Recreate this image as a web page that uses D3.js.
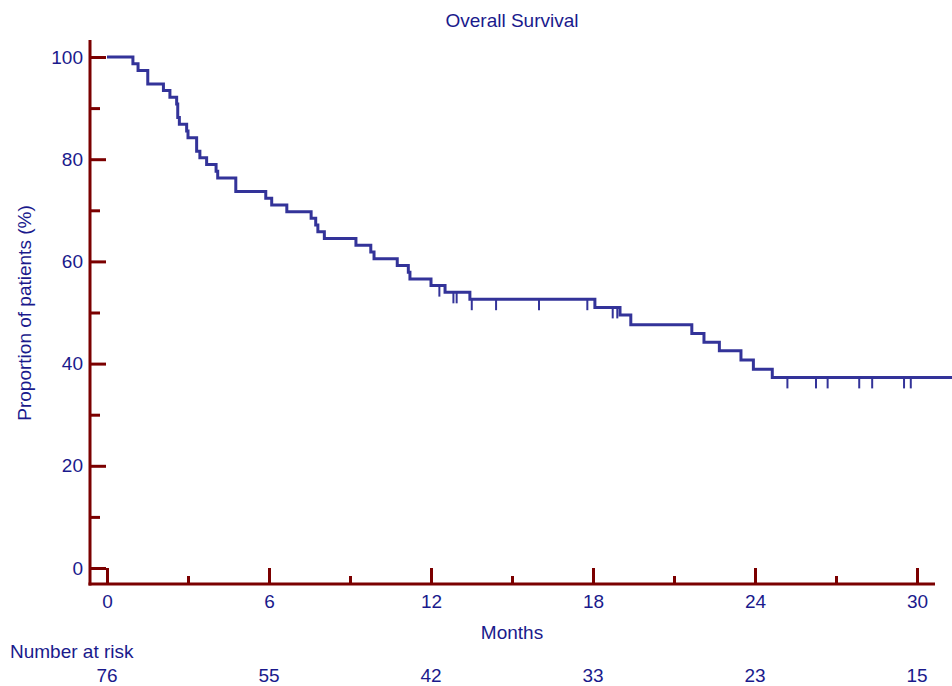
<!DOCTYPE html>
<html>
<head>
<meta charset="utf-8">
<script src="https://cdn.jsdelivr.net/npm/d3@7"></script>
<style>
	body { margin: 0; background: #fff; }
	svg text { font-family: "Liberation Sans", Arial, sans-serif; font-size: 19px; fill: #1a1a8c; }
</style>
</head>
<body>
<svg id="chart" width="952" height="686"></svg>
<script>
// Kaplan-Meier steps: time of drop (months) and survival (%) after the drop
var eventMonths = [0.96, 1.15, 1.51, 2.09, 2.33, 2.58, 2.62, 2.68, 2.95, 3.0,
	3.32, 3.44, 3.69, 4.04, 4.10, 4.77, 5.88, 6.10, 6.66, 7.56,
	7.73, 7.81, 8.05, 9.22, 9.77, 9.89, 10.75, 11.16, 11.22, 12.0,
	12.52, 13.44, 18.07, 19.0, 19.4, 21.66, 22.11, 22.68, 23.48, 23.94, 24.64];
var survivalPct = [98.68, 97.37, 94.74, 93.42, 92.11, 90.79, 88.16, 86.84, 85.53, 84.21,
	81.58, 80.26, 78.95, 77.63, 76.32, 73.68, 72.37, 71.05, 69.74, 68.42,
	67.11, 65.79, 64.47, 63.16, 61.84, 60.53, 59.21, 57.89, 56.58, 55.26,
	53.95, 52.6, 51.0, 49.5, 47.6, 45.9, 44.2, 42.5, 40.7, 38.9, 37.3];
var censorMonths = [12.31, 12.83, 12.95, 13.51, 14.41, 16.0, 17.79, 18.73, 18.9,
	25.2, 26.26, 26.69, 27.86, 28.34, 29.52, 29.77];
var lastFollowUp = 31.3;

var xMajorTicks = [0, 6, 12, 18, 24, 30];
var xMinorTicks = [3, 9, 15, 21, 27];
var yMajorTicks = [0, 20, 40, 60, 80, 100];
var yMinorTicks = [10, 30, 50, 70, 90];

var riskMonths = [0, 6, 12, 18, 24, 30];
var riskCounts = [76, 55, 42, 33, 23, 15];

var axisColor = '#7b0000',
	lineColor = '#333399';

var svg = d3.select('#chart');

var x = d3.scaleLinear().domain([0, 30]).range([107, 917]);
var y = d3.scaleLinear().domain([0, 100]).range([568, 57]);

// survival level at a given time (for censor marks)
function levelAt(t) {
	var s = 100;
	for (var i = 0; i < eventMonths.length; i++) {
		if (eventMonths[i] <= t) s = survivalPct[i];
	}
	return s;
}

// step points
var pts = [[0, 100]];
eventMonths.forEach(function(t, i) {
	pts.push([t, i === 0 ? 100 : survivalPct[i - 1]]);
	pts.push([t, survivalPct[i]]);
});
pts.push([lastFollowUp, survivalPct[survivalPct.length - 1]]);

// Axes
var yAxis = svg.append('g').attr('transform', 'translate(90,0)')
	.call(d3.axisLeft(y).tickValues(yMajorTicks).tickSize(-16).tickPadding(7));
var yMinor = svg.append('g').attr('transform', 'translate(90,0)')
	.call(d3.axisLeft(y).tickValues(yMinorTicks).tickSize(-10).tickFormat(''));
var xAxis = svg.append('g').attr('transform', 'translate(0,584)')
	.call(d3.axisBottom(x).tickValues(xMajorTicks).tickSize(-16).tickPadding(11));
var xMinor = svg.append('g').attr('transform', 'translate(0,584)')
	.call(d3.axisBottom(x).tickValues(xMinorTicks).tickSize(-8).tickFormat(''));

[yAxis, yMinor, xAxis, xMinor].forEach(function(g) {
	g.select('.domain').remove();
	g.attr('font-size', null).attr('font-family', null);
	g.selectAll('line').attr('stroke', axisColor).attr('stroke-width', 3);
	g.selectAll('text').attr('fill', null);
});

svg.append('line')
	.attr('x1', 90).attr('x2', 90).attr('y1', 40).attr('y2', 585.5)
	.attr('stroke', axisColor).attr('stroke-width', 3);
svg.append('line')
	.attr('x1', 88.5).attr('x2', 935).attr('y1', 584).attr('y2', 584)
	.attr('stroke', axisColor).attr('stroke-width', 3);

// survival curve
svg.append('path')
	.datum(pts)
	.attr('fill', 'none')
	.attr('stroke', lineColor)
	.attr('stroke-width', 3)
	.attr('stroke-linejoin', 'miter')
	.attr('d', d3.line()
		.x(function(d) { return x(d[0]); })
		.y(function(d) { return y(d[1]); }));

svg.selectAll('line.censor')
	.data(censorMonths)
	.enter().append('line')
	.attr('class', 'censor')
	.attr('x1', function(d) { return x(d); })
	.attr('x2', function(d) { return x(d); })
	.attr('y1', function(d) { return y(levelAt(d)); })
	.attr('y2', function(d) { return y(levelAt(d)) + 11; })
	.attr('stroke', lineColor)
	.attr('stroke-width', 2);

// titles
svg.append('text').attr('x', 512).attr('y', 27).attr('text-anchor', 'middle').text('Overall Survival');
svg.append('text').attr('x', 512).attr('y', 639).attr('text-anchor', 'middle').text('Months');
svg.append('text')
	.attr('transform', 'translate(31,313) rotate(-90)')
	.attr('text-anchor', 'middle')
	.text('Proportion of patients (%)');

// number at risk
svg.append('text').attr('x', 10).attr('y', 658).text('Number at risk');
svg.selectAll('text.risk')
	.data(riskCounts)
	.enter().append('text')
	.attr('class', 'risk')
	.attr('x', function(d, i) { return x(riskMonths[i]); })
	.attr('y', 682)
	.attr('text-anchor', 'middle')
	.text(function(d) { return d; });
</script>
</body>
</html>
